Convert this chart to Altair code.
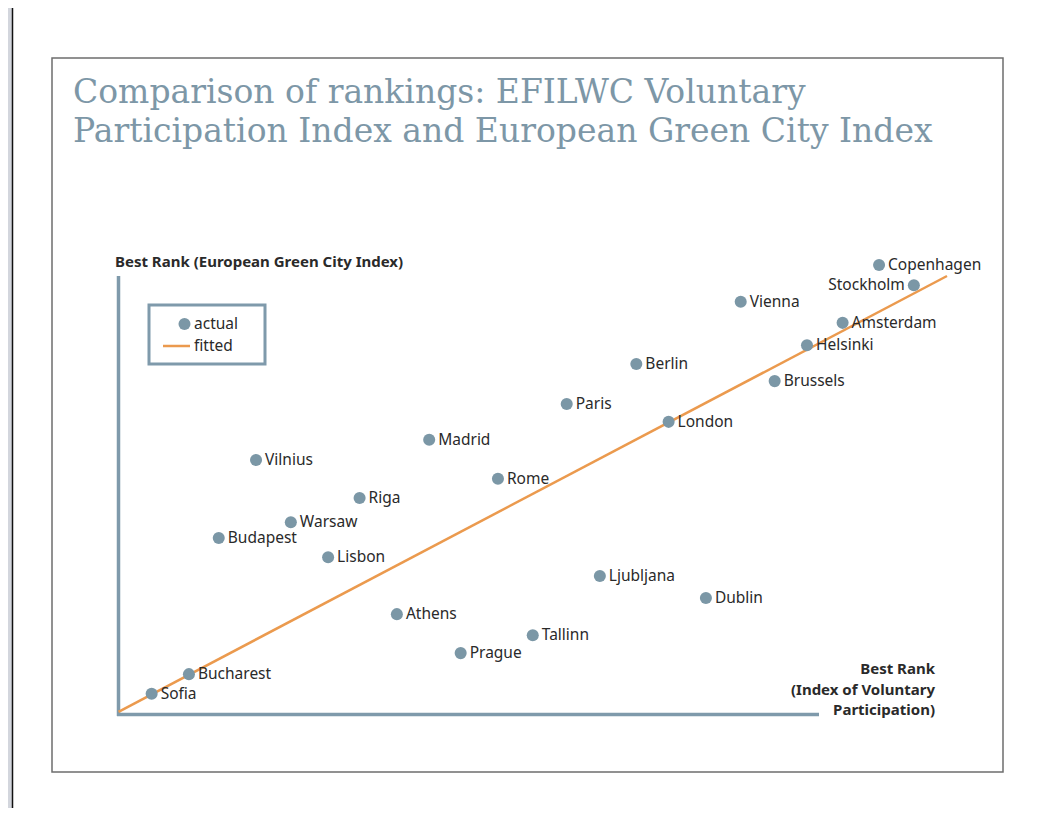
import altair as alt
import pandas as pd

# ---- data (arbitrary 0-100 rank score units) ----
cities = ["Sofia", "Bucharest", "Budapest", "Warsaw", "Vilnius", "Lisbon", "Riga",
          "Athens", "Madrid", "Rome", "Prague", "Tallinn", "Paris", "Ljubljana",
          "Berlin", "London", "Dublin", "Vienna", "Brussels", "Helsinki",
          "Amsterdam", "Stockholm", "Copenhagen"]
rank_voluntary = [4.0, 8.5, 12.1, 20.8, 16.6, 25.3, 29.1,
                  33.6, 37.5, 45.8, 41.3, 50.0, 54.1, 58.1,
                  62.5, 66.4, 70.9, 75.1, 79.2, 83.1,
                  87.4, 96.0, 91.8]
rank_green = [4.6, 9.1, 40.2, 43.8, 58.0, 35.8, 49.3,
              22.8, 62.6, 53.7, 13.9, 18.0, 70.8, 31.5,
              79.9, 66.7, 26.5, 94.1, 76.0, 84.2,
              89.3, 97.9, 102.5]
labels_left = ["Stockholm"]

fit_x = [0, 100]
fit_y = [0.5, 100]

title_lines = ["Comparison of rankings: EFILWC Voluntary",
               "Participation Index and European Green City Index"]
y_title = "Best Rank (European Green City Index)"
x_title_lines = ["Best Rank", "(Index of Voluntary", "Participation)"]

# ---- styles ----
DOT = "#7b97a6"
AXIS = "#7f9aab"
ORANGE = "#eb9a4e"
TITLE = "#7d97a7"
TEXT = "#2a2a2a"
SANS = "Noto Sans"
SERIF = "DejaVu Serif"

W, H = 1028, 800

df = pd.DataFrame({"city": cities, "xv": rank_voluntary, "yv": rank_green})
df["side"] = ["left" if c in labels_left else "right" for c in cities]
fit = pd.DataFrame({"xv": fit_x, "yv": fit_y})

xs = alt.Scale(domain=[0, 100], range=[110.5, 939], nice=False, zero=False)
ys = alt.Scale(domain=[0, 100], range=[706, 268], nice=False, zero=False)
X = alt.X("xv:Q", scale=xs, axis=None)
Y = alt.Y("yv:Q", scale=ys, axis=None)

one = pd.DataFrame({"k": [0]})

# outer page decoration
strip = alt.Chart(one).mark_rect(fill="#d3d6dd").encode(
    x=alt.value(0), x2=alt.value(4), y=alt.value(0), y2=alt.value(H))
strip_line = alt.Chart(one).mark_rule(color="#111111", strokeWidth=1.5).encode(
    x=alt.value(4.5), y=alt.value(0), y2=alt.value(H))

# frame
frame = alt.Chart(one).mark_rect(fill="white", stroke="#6e6e6e", strokeWidth=1.5).encode(
    x=alt.value(44), x2=alt.value(995), y=alt.value(50), y2=alt.value(764))

# axis lines
yaxis = alt.Chart(one).mark_rule(color=AXIS, strokeWidth=3.5).encode(
    x=alt.value(110.5), y=alt.value(268), y2=alt.value(708))
xaxis = alt.Chart(one).mark_rule(color=AXIS, strokeWidth=3.5).encode(
    x=alt.value(109), x2=alt.value(811), y=alt.value(706.5))

# fitted line
fitted = alt.Chart(fit).mark_line(color=ORANGE, strokeWidth=2.5).encode(x=X, y=Y)

# points
DSZ = 145
pts = alt.Chart(df).mark_circle(size=DSZ, color=DOT, opacity=1).encode(x=X, y=Y)

LFS = 15.5
lab_r = alt.Chart(df).transform_filter(alt.datum.side == "right").mark_text(
    align="left", baseline="middle", dx=9, font=SANS, fontSize=LFS, color=TEXT
).encode(x=X, y=Y, text="city:N")
lab_l = alt.Chart(df).transform_filter(alt.datum.side == "left").mark_text(
    align="right", baseline="middle", dx=-9, font=SANS, fontSize=LFS, color=TEXT
).encode(x=X, y=Y, text="city:N")

# titles
TFS = 33
t1 = alt.Chart(one).mark_text(align="left", baseline="alphabetic", font=SERIF, fontSize=TFS,
                              color=TITLE, text=title_lines[0]).encode(x=alt.value(65), y=alt.value(95))
t2 = alt.Chart(one).mark_text(align="left", baseline="alphabetic", font=SERIF, fontSize=TFS,
                              color=TITLE, text=title_lines[1]).encode(x=alt.value(65), y=alt.value(134))

AFS = 15
yt = alt.Chart(one).mark_text(align="left", baseline="middle", font=SANS, fontSize=AFS,
                              fontWeight="bold", color=TEXT, text=y_title).encode(
    x=alt.value(107), y=alt.value(254))
xt = [alt.Chart(one).mark_text(align="right", baseline="middle", font=SANS, fontSize=AFS,
                               fontWeight="bold", color=TEXT, text=s).encode(
    x=alt.value(927), y=alt.value(661 + 20.5 * i)) for i, s in enumerate(x_title_lines)]

# legend
leg_box = alt.Chart(one).mark_rect(fill="white", stroke=AXIS, strokeWidth=3).encode(
    x=alt.value(141), x2=alt.value(257), y=alt.value(297), y2=alt.value(356))
leg_dot = alt.Chart(one).mark_circle(size=DSZ, color=DOT, opacity=1).encode(
    x=alt.value(176.5), y=alt.value(316))
leg_line = alt.Chart(one).mark_rule(color=ORANGE, strokeWidth=2.5).encode(
    x=alt.value(155), x2=alt.value(182), y=alt.value(338))
leg_t1 = alt.Chart(one).mark_text(align="left", baseline="middle", font=SANS, fontSize=LFS,
                                  color=TEXT, text="actual").encode(x=alt.value(186), y=alt.value(316))
leg_t2 = alt.Chart(one).mark_text(align="left", baseline="middle", font=SANS, fontSize=LFS,
                                  color=TEXT, text="fitted").encode(x=alt.value(186), y=alt.value(338))

chart = alt.layer(
    strip, strip_line, frame, yaxis, xaxis, fitted, pts, lab_r, lab_l, t1, t2, yt, *xt,
    leg_box, leg_dot, leg_line, leg_t1, leg_t2
).properties(
    width=W, height=H, padding=0,
    autosize=alt.AutoSizeParams(type="none")
).configure_view(stroke=None)

chart.save("out.html", embed_options={"renderer": "svg", "actions": False})
